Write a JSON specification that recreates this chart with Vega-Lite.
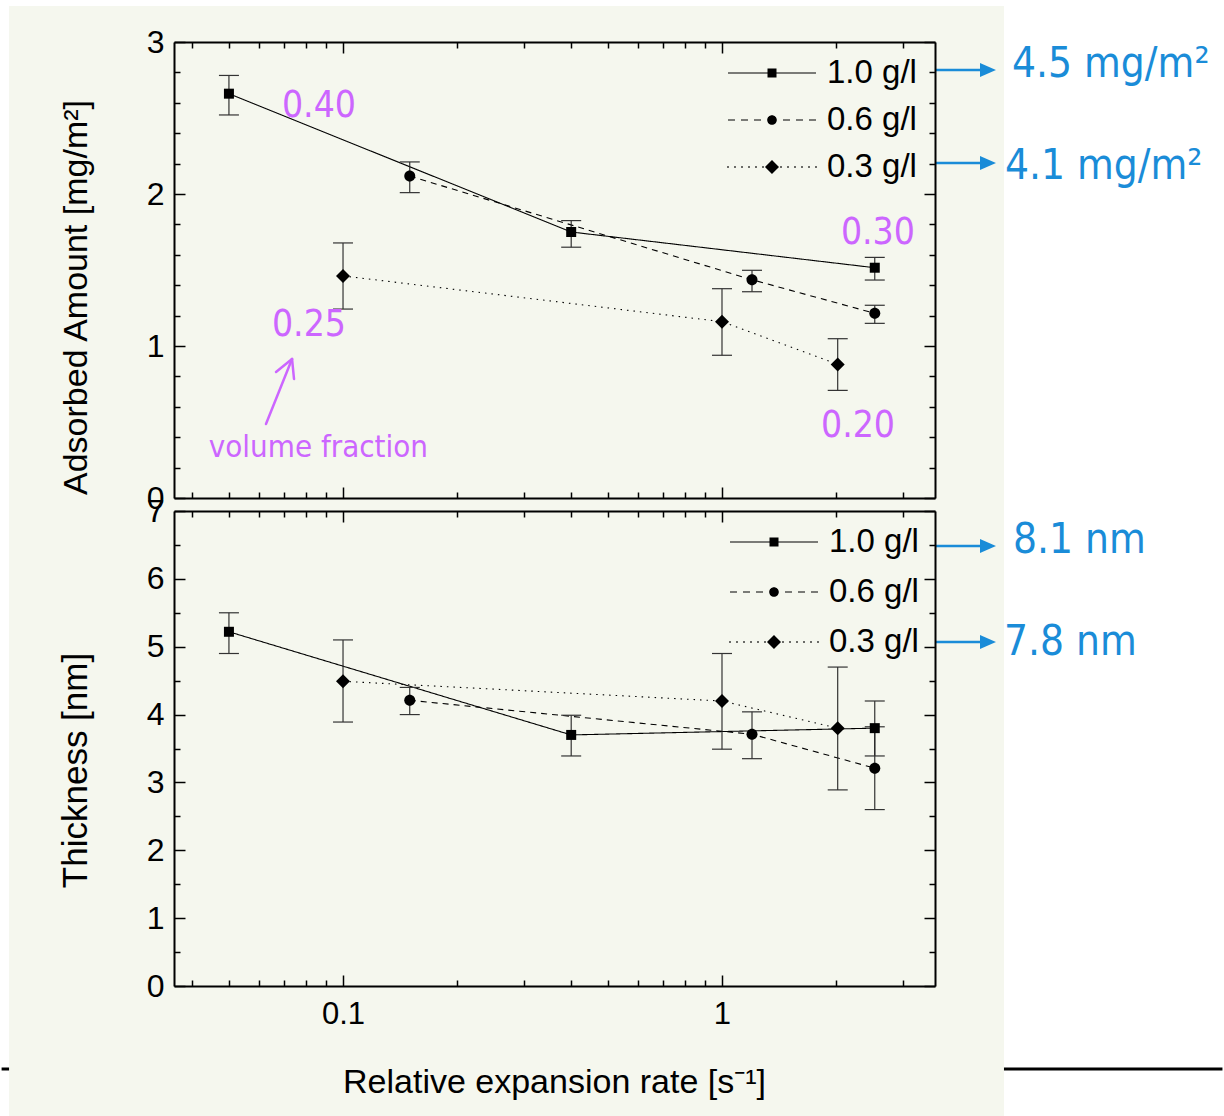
{
"$schema":"https://vega.github.io/schema/vega-lite/v6.json",
"background":"white",
"padding":{"left":0,"top":6,"right":0,"bottom":0},
"bounds":"flush",
"spacing":13,
"config":{"view":{"stroke":null},"axis":{"domainColor":"black","domainWidth":2,"tickColor":"black","tickWidth":1.5,"grid":false,"labelColor":"black","titleColor":"black","labelFont":"Liberation Sans","titleFont":"Liberation Sans","labelFontSize":32,"titleFontSize":34,"titleFontWeight":"normal","labelOverlap":false,"labelFlush":false,"labelBound":false}},
"datasets":{
"ads":[
{"series":"1.0 g/l","rate":0.05,"val":2.66,"hi":2.78,"lo":2.52},
{"series":"1.0 g/l","rate":0.4,"val":1.75,"hi":1.825,"lo":1.65},
{"series":"1.0 g/l","rate":2.53,"val":1.515,"hi":1.583,"lo":1.434},
{"series":"0.6 g/l","rate":0.15,"val":2.118,"hi":2.211,"lo":2.009},
{"series":"0.6 g/l","rate":1.2,"val":1.436,"hi":1.498,"lo":1.357},
{"series":"0.6 g/l","rate":2.53,"val":1.215,"hi":1.268,"lo":1.149},
{"series":"0.3 g/l","rate":0.1,"val":1.461,"hi":1.678,"lo":1.243},
{"series":"0.3 g/l","rate":1.0,"val":1.16,"hi":1.377,"lo":0.939},
{"series":"0.3 g/l","rate":2.02,"val":0.879,"hi":1.048,"lo":0.708}
],
"thk":[
{"series":"1.0 g/l","rate":0.05,"val":5.22,"hi":5.5,"lo":4.9},
{"series":"1.0 g/l","rate":0.4,"val":3.7,"hi":3.99,"lo":3.39},
{"series":"1.0 g/l","rate":2.53,"val":3.8,"hi":4.2,"lo":3.39},
{"series":"0.6 g/l","rate":0.15,"val":4.21,"hi":4.4,"lo":4.0},
{"series":"0.6 g/l","rate":1.2,"val":3.71,"hi":4.04,"lo":3.35},
{"series":"0.6 g/l","rate":2.53,"val":3.21,"hi":3.82,"lo":2.6},
{"series":"0.3 g/l","rate":0.1,"val":4.49,"hi":5.1,"lo":3.89},
{"series":"0.3 g/l","rate":1.0,"val":4.2,"hi":4.9,"lo":3.49},
{"series":"0.3 g/l","rate":2.02,"val":3.8,"hi":4.7,"lo":2.89}
],
"purpleBig":[
{"x":0.0864,"y":2.507,"t":"0.40"},
{"x":2.579,"y":1.671,"t":"0.30"},
{"x":0.0813,"y":1.066,"t":"0.25"},
{"x":2.285,"y":0.401,"t":"0.20"}
],
"purpleSmall":[{"x":0.0861,"y":0.27,"t":"volume fraction"}],
"purpleArrow":[
{"x":0.06262,"y":0.4868,"x2":0.07336,"y2":0.9145},
{"x":0.06656,"y":0.8289,"x2":0.07336,"y2":0.9145},
{"x":0.07425,"y":0.7829,"x2":0.07336,"y2":0.9145}
],
"blueA":[{"x":5.823,"y":2.77,"t":"4.5 mg/m²"},{"x":5.58,"y":2.099,"t":"4.1 mg/m²"}],
"blueArrowA":[{"x":3.648,"x2":4.853,"xh":5.033,"y":2.816},{"x":3.648,"x2":4.853,"xh":5.033,"y":2.204}],
"blueB":[{"x":5.861,"y":6.381,"t":"8.1 nm"},{"x":5.547,"y":4.878,"t":"7.8 nm"}],
"blueArrowB":[{"x":3.648,"x2":4.853,"xh":5.033,"y":6.484},{"x":3.648,"x2":4.853,"xh":5.033,"y":5.07}]
},
"vconcat":[
{
"width":761,"height":456,
"resolve":{"scale":{"shape":"independent"},"axis":{"x":"independent","y":"independent"}},
"layer":[
{"data":{"values":[{"k":1}]},"mark":{"type":"rect","color":"#f5f7ee"},
 "encoding":{"x":{"datum":0.013146,"type":"quantitative","scale":{"type":"log","domain":[0.03581,3.648],"nice":false},"axis":null},"x2":{"datum":5.547},
 "y":{"datum":3.2368,"type":"quantitative","scale":{"domain":[0,3],"nice":false,"zero":false},"axis":null},"y2":{"datum":-0.0921}}},
{"data":{"name":"ads"},"mark":{"type":"line","color":"black","strokeWidth":1.1},
 "encoding":{"x":{"field":"rate","type":"quantitative","scale":{"type":"log","domain":[0.03581,3.648],"nice":false},
   "axis":{"zindex":1,"orient":"bottom","values":[0.04,0.05,0.06,0.07,0.08,0.09,0.1,0.2,0.3,0.4,0.5,0.6,0.7,0.8,0.9,1,2,3],"labels":false,"title":null,"tickSize":{"condition":{"test":"datum.value==0.1||datum.value==1","value":-11},"value":-6}}},
  "y":{"field":"val","type":"quantitative","scale":{"domain":[0,3],"nice":false,"zero":false},
   "axis":{"zindex":1,"orient":"left","values":[0,0.2,0.4,0.6,0.8,1,1.2,1.4,1.6,1.8,2,2.2,2.4,2.6,2.8,3],"labelExpr":"datum.value % 1 == 0 ? format(datum.value, 'd') : ''","labelPadding":21,"tickSize":{"condition":{"test":"datum.value % 1 == 0","value":-11},"value":-6},"title":"Adsorbed Amount [mg/m²]","titleX":-81,"titleY":255}},
  "strokeDash":{"field":"series","type":"nominal","scale":{"domain":["1.0 g/l","0.6 g/l","0.3 g/l"],"range":[[1,0],[6,5],[1.5,5]]},"legend":null},
  "order":{"field":"rate"}}},
{"data":{"name":"ads"},"mark":{"type":"rule","color":"#222","strokeWidth":1.1},
 "encoding":{"x":{"field":"rate","type":"quantitative","scale":{"type":"log","domain":[0.03581,3.648],"nice":false},"axis":null},
  "y":{"field":"hi","type":"quantitative","scale":{"domain":[0,3],"nice":false,"zero":false},"axis":null},"y2":{"field":"lo"}}},
{"data":{"name":"ads"},"mark":{"type":"tick","orient":"horizontal","size":20,"thickness":1.2,"color":"#333","opacity":1},
 "encoding":{"x":{"field":"rate","type":"quantitative","scale":{"type":"log","domain":[0.03581,3.648],"nice":false},"axis":null},
  "y":{"field":"hi","type":"quantitative","scale":{"domain":[0,3],"nice":false,"zero":false},"axis":null}}},
{"data":{"name":"ads"},"mark":{"type":"tick","orient":"horizontal","size":20,"thickness":1.2,"color":"#333","opacity":1},
 "encoding":{"x":{"field":"rate","type":"quantitative","scale":{"type":"log","domain":[0.03581,3.648],"nice":false},"axis":null},
  "y":{"field":"lo","type":"quantitative","scale":{"domain":[0,3],"nice":false,"zero":false},"axis":null}}},
{"data":{"name":"ads"},"mark":{"type":"point","filled":true,"color":"black","opacity":1,"size":100},
 "encoding":{"x":{"field":"rate","type":"quantitative","scale":{"type":"log","domain":[0.03581,3.648],"nice":false},
   "axis":{"zindex":1,"orient":"top","values":[0.04,0.05,0.06,0.07,0.08,0.09,0.1,0.2,0.3,0.4,0.5,0.6,0.7,0.8,0.9,1,2,3],"labels":false,"title":null,"tickSize":{"condition":{"test":"datum.value==0.1||datum.value==1","value":-11},"value":-6}}},
  "y":{"field":"val","type":"quantitative","scale":{"domain":[0,3],"nice":false,"zero":false},
   "axis":{"zindex":1,"orient":"right","values":[0,0.2,0.4,0.6,0.8,1,1.2,1.4,1.6,1.8,2,2.2,2.4,2.6,2.8,3],"labels":false,"title":null,"tickSize":{"condition":{"test":"datum.value % 1 == 0","value":-11},"value":-6}}},
  "shape":{"field":"series","type":"nominal","scale":{"domain":["1.0 g/l","0.6 g/l","0.3 g/l"],"range":["M-1,-1H1V1H-1Z","M1.1,0A1.1,1.1 0 1,1 -1.1,0A1.1,1.1 0 1,1 1.1,0Z","M0,-1.4L1.4,0L0,1.4L-1.4,0Z"]},"legend":null}}},
{"data":{"name":"ads"},"transform":[{"filter":"datum.rate < 0"}],"mark":{"type":"point","filled":true,"fill":"black","stroke":"black","strokeWidth":0,"opacity":1},
 "encoding":{"x":{"field":"rate","type":"quantitative","scale":{"type":"log","domain":[0.03581,3.648],"nice":false},"axis":null},
  "y":{"field":"val","type":"quantitative","scale":{"domain":[0,3],"nice":false,"zero":false},"axis":null},
  "shape":{"field":"series","type":"nominal","scale":{"domain":["1.0 g/l","0.6 g/l","0.3 g/l"],"range":[
"M-2.933,-0.04H-0.3V0.04H-2.933ZM0.3,-0.04H2.933V0.04H0.3ZM-0.3,-0.3H0.3V0.3H-0.3Z",
"M-2.933,-0.04H-2.467V0.04H-2.933ZM-2.067,-0.04H-1.6V0.04H-2.067ZM-1.2,-0.04H-0.733V0.04H-1.2ZM0.733,-0.04H1.2V0.04H0.733ZM1.6,-0.04H2.067V0.04H1.6ZM2.467,-0.04H2.933V0.04H2.467ZM0.32,0A0.32,0.32 0 1,1 -0.32,0A0.32,0.32 0 1,1 0.32,0Z",
"M-2.983,-0.05H-2.883V0.05H-2.983ZM-2.517,-0.05H-2.417V0.05H-2.517ZM-2.05,-0.05H-1.95V0.05H-2.05ZM-1.583,-0.05H-1.483V0.05H-1.583ZM-1.117,-0.05H-1.017V0.05H-1.117ZM-0.65,-0.05H-0.55V0.05H-0.65ZM0.55,-0.05H0.65V0.05H0.55ZM1.017,-0.05H1.117V0.05H1.017ZM1.483,-0.05H1.583V0.05H1.483ZM1.95,-0.05H2.05V0.05H1.95ZM2.417,-0.05H2.517V0.05H2.417ZM2.883,-0.05H2.983V0.05H2.883ZM0,-0.467L0.467,0L0,0.467L-0.467,0Z"]},
   "legend":{"title":null,"orient":"none","legendX":581.5,"legendY":14.5,"padding":0,"symbolSize":900,"symbolStrokeWidth":0,"symbolFillColor":"black","labelFont":"Liberation Sans","labelFontSize":33,"labelColor":"black","labelOffset":38.5,"labelLimit":0,"rowPadding":13}}}},
{"data":{"name":"purpleBig"},"mark":{"type":"text","color":"#cc66ff","font":"DejaVu Sans Condensed, Noto Sans","fontSize":37,"align":"center","baseline":"alphabetic"},
 "encoding":{"x":{"field":"x","type":"quantitative","scale":{"type":"log","domain":[0.03581,3.648],"nice":false},"axis":null},
  "y":{"field":"y","type":"quantitative","scale":{"domain":[0,3],"nice":false,"zero":false},"axis":null},
  "text":{"field":"t"}}},
{"data":{"name":"purpleSmall"},"mark":{"type":"text","color":"#cc66ff","font":"DejaVu Sans Condensed, Noto Sans","fontSize":31,"align":"center","baseline":"alphabetic"},
 "encoding":{"x":{"field":"x","type":"quantitative","scale":{"type":"log","domain":[0.03581,3.648],"nice":false},"axis":null},
  "y":{"field":"y","type":"quantitative","scale":{"domain":[0,3],"nice":false,"zero":false},"axis":null},
  "text":{"field":"t"}}},
{"data":{"name":"purpleArrow"},"mark":{"type":"rule","color":"#cc66ff","strokeWidth":2.5,"strokeCap":"round"},
 "encoding":{"x":{"field":"x","type":"quantitative","scale":{"type":"log","domain":[0.03581,3.648],"nice":false},"axis":null},"x2":{"field":"x2"},
  "y":{"field":"y","type":"quantitative","scale":{"domain":[0,3],"nice":false,"zero":false},"axis":null},"y2":{"field":"y2"}}},
{"data":{"name":"blueArrowA"},"mark":{"type":"rule","color":"#1a8cd8","strokeWidth":2.5},
 "encoding":{"x":{"field":"x","type":"quantitative","scale":{"type":"log","domain":[0.03581,3.648],"nice":false},"axis":null},"x2":{"field":"x2"},
  "y":{"field":"y","type":"quantitative","scale":{"domain":[0,3],"nice":false,"zero":false},"axis":null}}},
{"data":{"name":"blueArrowA"},"mark":{"type":"point","filled":true,"color":"#1a8cd8","opacity":1,"shape":"M-1,-0.875L1,0L-1,0.875Z","size":256},
 "encoding":{"x":{"field":"xh","type":"quantitative","scale":{"type":"log","domain":[0.03581,3.648],"nice":false},"axis":null},
  "y":{"field":"y","type":"quantitative","scale":{"domain":[0,3],"nice":false,"zero":false},"axis":null}}},
{"data":{"name":"blueA"},"mark":{"type":"text","color":"#1a8cd8","font":"DejaVu Sans Condensed, Noto Sans","fontSize":42,"align":"left","baseline":"alphabetic"},
 "encoding":{"x":{"field":"x","type":"quantitative","scale":{"type":"log","domain":[0.03581,3.648],"nice":false},"axis":null},
  "y":{"field":"y","type":"quantitative","scale":{"domain":[0,3],"nice":false,"zero":false},"axis":null},
  "text":{"field":"t"}}}
]
},
{
"width":761,"height":475,
"resolve":{"scale":{"shape":"independent"},"axis":{"x":"independent","y":"independent"}},
"layer":[
{"data":{"values":[{"k":1}]},"mark":{"type":"rule","color":"black","strokeWidth":3},
 "encoding":{"x":{"datum":0.012563,"type":"quantitative","scale":{"type":"log","domain":[0.03581,3.648],"nice":false},"axis":null},"x2":{"datum":20.92},
 "y":{"datum":-1.2232,"type":"quantitative","scale":{"domain":[0,7],"nice":false,"zero":false},"axis":null}}},
{"data":{"values":[{"k":1}]},"mark":{"type":"rect","color":"#f5f7ee"},
 "encoding":{"x":{"datum":0.013146,"type":"quantitative","scale":{"type":"log","domain":[0.03581,3.648],"nice":false},"axis":null},"x2":{"datum":5.547},
 "y":{"datum":7.0,"type":"quantitative","scale":{"domain":[0,7],"nice":false,"zero":false},"axis":null},"y2":{"datum":-1.9158}}},
{"data":{"name":"thk"},"mark":{"type":"line","color":"black","strokeWidth":1.1},
 "encoding":{"x":{"field":"rate","type":"quantitative","scale":{"type":"log","domain":[0.03581,3.648],"nice":false},
   "axis":{"zindex":1,"orient":"bottom","values":[0.04,0.05,0.06,0.07,0.08,0.09,0.1,0.2,0.3,0.4,0.5,0.6,0.7,0.8,0.9,1,2,3],"labelExpr":"datum.value == 0.1 ? '0.1' : datum.value == 1 ? '1' : ''","labelFontSize":31,"labelBaseline":"alphabetic","labelPadding":48,"tickSize":{"condition":{"test":"datum.value==0.1||datum.value==1","value":-11},"value":-6},"title":"Relative expansion rate [s⁻¹]","titleX":380,"titleY":106,"titleBaseline":"alphabetic"}},
  "y":{"field":"val","type":"quantitative","scale":{"domain":[0,7],"nice":false,"zero":false},
   "axis":{"zindex":1,"orient":"left","values":[0,0.5,1,1.5,2,2.5,3,3.5,4,4.5,5,5.5,6,6.5,7],"labelExpr":"datum.value % 1 == 0 ? format(datum.value, 'd') : ''","labelPadding":21,"tickSize":{"condition":{"test":"datum.value % 1 == 0","value":-11},"value":-6},"title":"Thickness [nm]","titleFontSize":35,"titleX":-81,"titleY":259}},
  "strokeDash":{"field":"series","type":"nominal","scale":{"domain":["1.0 g/l","0.6 g/l","0.3 g/l"],"range":[[1,0],[6,5],[1.5,5]]},"legend":null},
  "order":{"field":"rate"}}},
{"data":{"name":"thk"},"mark":{"type":"rule","color":"#222","strokeWidth":1.1},
 "encoding":{"x":{"field":"rate","type":"quantitative","scale":{"type":"log","domain":[0.03581,3.648],"nice":false},"axis":null},
  "y":{"field":"hi","type":"quantitative","scale":{"domain":[0,7],"nice":false,"zero":false},"axis":null},"y2":{"field":"lo"}}},
{"data":{"name":"thk"},"mark":{"type":"tick","orient":"horizontal","size":20,"thickness":1.2,"color":"#333","opacity":1},
 "encoding":{"x":{"field":"rate","type":"quantitative","scale":{"type":"log","domain":[0.03581,3.648],"nice":false},"axis":null},
  "y":{"field":"hi","type":"quantitative","scale":{"domain":[0,7],"nice":false,"zero":false},"axis":null}}},
{"data":{"name":"thk"},"mark":{"type":"tick","orient":"horizontal","size":20,"thickness":1.2,"color":"#333","opacity":1},
 "encoding":{"x":{"field":"rate","type":"quantitative","scale":{"type":"log","domain":[0.03581,3.648],"nice":false},"axis":null},
  "y":{"field":"lo","type":"quantitative","scale":{"domain":[0,7],"nice":false,"zero":false},"axis":null}}},
{"data":{"name":"thk"},"mark":{"type":"point","filled":true,"color":"black","opacity":1,"size":100},
 "encoding":{"x":{"field":"rate","type":"quantitative","scale":{"type":"log","domain":[0.03581,3.648],"nice":false},
   "axis":{"zindex":1,"orient":"top","values":[0.04,0.05,0.06,0.07,0.08,0.09,0.1,0.2,0.3,0.4,0.5,0.6,0.7,0.8,0.9,1,2,3],"labels":false,"title":null,"tickSize":{"condition":{"test":"datum.value==0.1||datum.value==1","value":-11},"value":-6}}},
  "y":{"field":"val","type":"quantitative","scale":{"domain":[0,7],"nice":false,"zero":false},
   "axis":{"zindex":1,"orient":"right","values":[0,0.5,1,1.5,2,2.5,3,3.5,4,4.5,5,5.5,6,6.5,7],"labels":false,"title":null,"tickSize":{"condition":{"test":"datum.value % 1 == 0","value":-11},"value":-6}}},
  "shape":{"field":"series","type":"nominal","scale":{"domain":["1.0 g/l","0.6 g/l","0.3 g/l"],"range":["M-1,-1H1V1H-1Z","M1.1,0A1.1,1.1 0 1,1 -1.1,0A1.1,1.1 0 1,1 1.1,0Z","M0,-1.4L1.4,0L0,1.4L-1.4,0Z"]},"legend":null}}},
{"data":{"name":"thk"},"transform":[{"filter":"datum.rate < 0"}],"mark":{"type":"point","filled":true,"fill":"black","stroke":"black","strokeWidth":0,"opacity":1},
 "encoding":{"x":{"field":"rate","type":"quantitative","scale":{"type":"log","domain":[0.03581,3.648],"nice":false},"axis":null},
  "y":{"field":"val","type":"quantitative","scale":{"domain":[0,7],"nice":false,"zero":false},"axis":null},
  "shape":{"field":"series","type":"nominal","scale":{"domain":["1.0 g/l","0.6 g/l","0.3 g/l"],"range":[
"M-2.933,-0.04H-0.3V0.04H-2.933ZM0.3,-0.04H2.933V0.04H0.3ZM-0.3,-0.3H0.3V0.3H-0.3Z",
"M-2.933,-0.04H-2.467V0.04H-2.933ZM-2.067,-0.04H-1.6V0.04H-2.067ZM-1.2,-0.04H-0.733V0.04H-1.2ZM0.733,-0.04H1.2V0.04H0.733ZM1.6,-0.04H2.067V0.04H1.6ZM2.467,-0.04H2.933V0.04H2.467ZM0.32,0A0.32,0.32 0 1,1 -0.32,0A0.32,0.32 0 1,1 0.32,0Z",
"M-2.983,-0.05H-2.883V0.05H-2.983ZM-2.517,-0.05H-2.417V0.05H-2.517ZM-2.05,-0.05H-1.95V0.05H-2.05ZM-1.583,-0.05H-1.483V0.05H-1.583ZM-1.117,-0.05H-1.017V0.05H-1.117ZM-0.65,-0.05H-0.55V0.05H-0.65ZM0.55,-0.05H0.65V0.05H0.55ZM1.017,-0.05H1.117V0.05H1.017ZM1.483,-0.05H1.583V0.05H1.483ZM1.95,-0.05H2.05V0.05H1.95ZM2.417,-0.05H2.517V0.05H2.417ZM2.883,-0.05H2.983V0.05H2.883ZM0,-0.467L0.467,0L0,0.467L-0.467,0Z"]},
   "legend":{"title":null,"orient":"none","legendX":583.5,"legendY":14.5,"padding":0,"symbolSize":900,"symbolStrokeWidth":0,"symbolFillColor":"black","labelFont":"Liberation Sans","labelFontSize":33,"labelColor":"black","labelOffset":38.5,"labelLimit":0,"rowPadding":16}}}},
{"data":{"name":"blueArrowB"},"mark":{"type":"rule","color":"#1a8cd8","strokeWidth":2.5},
 "encoding":{"x":{"field":"x","type":"quantitative","scale":{"type":"log","domain":[0.03581,3.648],"nice":false},"axis":null},"x2":{"field":"x2"},
  "y":{"field":"y","type":"quantitative","scale":{"domain":[0,7],"nice":false,"zero":false},"axis":null}}},
{"data":{"name":"blueArrowB"},"mark":{"type":"point","filled":true,"color":"#1a8cd8","opacity":1,"shape":"M-1,-0.875L1,0L-1,0.875Z","size":256},
 "encoding":{"x":{"field":"xh","type":"quantitative","scale":{"type":"log","domain":[0.03581,3.648],"nice":false},"axis":null},
  "y":{"field":"y","type":"quantitative","scale":{"domain":[0,7],"nice":false,"zero":false},"axis":null}}},
{"data":{"name":"blueB"},"mark":{"type":"text","color":"#1a8cd8","font":"DejaVu Sans Condensed, Noto Sans","fontSize":42,"align":"left","baseline":"alphabetic"},
 "encoding":{"x":{"field":"x","type":"quantitative","scale":{"type":"log","domain":[0.03581,3.648],"nice":false},"axis":null},
  "y":{"field":"y","type":"quantitative","scale":{"domain":[0,7],"nice":false,"zero":false},"axis":null},
  "text":{"field":"t"}}}
]
}
]
}
